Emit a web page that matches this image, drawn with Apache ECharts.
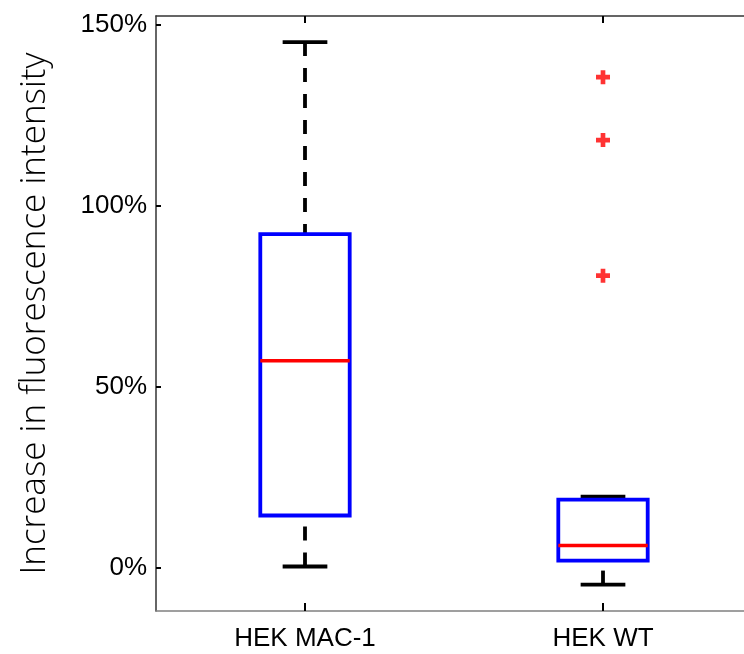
<!DOCTYPE html>
<html>
<head>
<meta charset="utf-8">
<script src="https://cdn.jsdelivr.net/npm/echarts@6/dist/echarts.min.js"></script>
<style>html,body{margin:0;padding:0;background:#fff;overflow:hidden;width:744px;height:654px}#c{width:752px;height:654px}</style>
</head>
<body>
<div id="c"></div>
<script>
var categories = ['HEK MAC-1', 'HEK WT'];
var whiskerLow = [0.3, -4.7];
var q1 = [14.4, 1.9];
var median = [57.2, 6.1];
var q3 = [92.2, 18.8];
var whiskerHigh = [145.3, 19.6];
var outlierCategory = [1, 1, 1];
var outlierValues = [135.6, 118.2, 80.7];
var yTickValues = [0, 50, 100, 150];

var boxData = categories.map(function (c, i) {
  return [i, whiskerLow[i], q1[i], median[i], q3[i], whiskerHigh[i]];
});
var outlierData = outlierValues.map(function (v, i) { return [outlierCategory[i], v]; });

function renderBox(params, api) {
  var idx = api.value(0);
  var band = api.size([1, 0])[0];
  var bw = band * 0.3;
  var cw = bw * 0.5;
  var pLo = api.coord([idx, api.value(1)]);
  var pQ1 = api.coord([idx, api.value(2)]);
  var pMed = api.coord([idx, api.value(3)]);
  var pQ3 = api.coord([idx, api.value(4)]);
  var pHi = api.coord([idx, api.value(5)]);
  var x = pMed[0];
  var lw = 3.8;
  var dash = { stroke: '#000', lineWidth: lw, lineDash: [14, 12], fill: null };
  var solid = { stroke: '#000', lineWidth: lw, fill: null };
  return {
    type: 'group',
    children: [
      { type: 'line', shape: { x1: x, y1: pHi[1], x2: x, y2: pQ3[1] }, style: dash },
      { type: 'line', shape: { x1: x, y1: pLo[1], x2: x, y2: pQ1[1] }, style: dash },
      { type: 'line', shape: { x1: x - cw / 2, y1: pHi[1], x2: x + cw / 2, y2: pHi[1] }, style: solid },
      { type: 'line', shape: { x1: x - cw / 2, y1: pLo[1], x2: x + cw / 2, y2: pLo[1] }, style: solid },
      { type: 'rect', shape: { x: x - bw / 2, y: pQ3[1], width: bw, height: pQ1[1] - pQ3[1] },
        style: { stroke: '#0000ff', lineWidth: lw, fill: null } },
      { type: 'line', shape: { x1: x - bw / 2, y1: pMed[1], x2: x + bw / 2, y2: pMed[1] },
        style: { stroke: '#ff0000', lineWidth: 3.5 } }
    ]
  };
}

var chart = echarts.init(document.getElementById('c'), null, { renderer: 'canvas', width: 752, height: 654 });
chart.setOption({
  animation: false,
  backgroundColor: '#fff',
  grid: { left: 156, top: 16, right: 0, bottom: 43, containLabel: false },
  xAxis: [{
    type: 'category',
    data: categories,
    position: 'bottom',
    boundaryGap: true,
    axisLine: { show: true, onZero: false, lineStyle: { color: '#808080', width: 1.5 } },
    axisTick: { show: true, inside: true, alignWithLabel: true, length: 8, lineStyle: { color: '#000', width: 2 } },
    axisLabel: { fontFamily: 'Liberation Sans', fontSize: 26, color: '#000', margin: 15 },
    splitLine: { show: false }
  }, {
    type: 'category',
    data: categories,
    position: 'top',
    boundaryGap: true,
    axisLine: { show: true, onZero: false, lineStyle: { color: '#333', width: 1.5 } },
    axisTick: { show: true, inside: true, alignWithLabel: true, length: 7, lineStyle: { color: '#000', width: 2 } },
    axisLabel: { show: false },
    splitLine: { show: false }
  }],
  yAxis: {
    type: 'value',
    min: -12,
    max: 152.5,
    name: 'Increase in fluorescence intensity',
    nameLocation: 'middle',
    nameGap: 103,
    nameTextStyle: { fontFamily: 'Open Sans', fontSize: 35, color: '#000', fontWeight: 300 },
    axisLine: { show: true, onZero: false, lineStyle: { color: '#333', width: 1.5 } },
    axisTick: { show: true, inside: true, length: 5, customValues: yTickValues, lineStyle: { color: '#000', width: 2 } },
    axisLabel: { fontFamily: 'Liberation Sans', fontSize: 26, color: '#000', margin: 9,
      customValues: yTickValues, formatter: function (v) { return v + '%'; } },
    splitLine: { show: false }
  },
  series: [{
    type: 'custom',
    renderItem: renderBox,
    data: boxData,
    encode: { x: 0, y: [1, 2, 3, 4, 5] },
    z: 3
  }, {
    type: 'scatter',
    data: outlierData,
    symbol: 'path://M5,0H10V5H15V10H10V15H5V10H0V5H5Z',
    symbolSize: 14,
    itemStyle: { color: '#ff0000' },
    z: 4
  }]
});
</script>
</body>
</html>
